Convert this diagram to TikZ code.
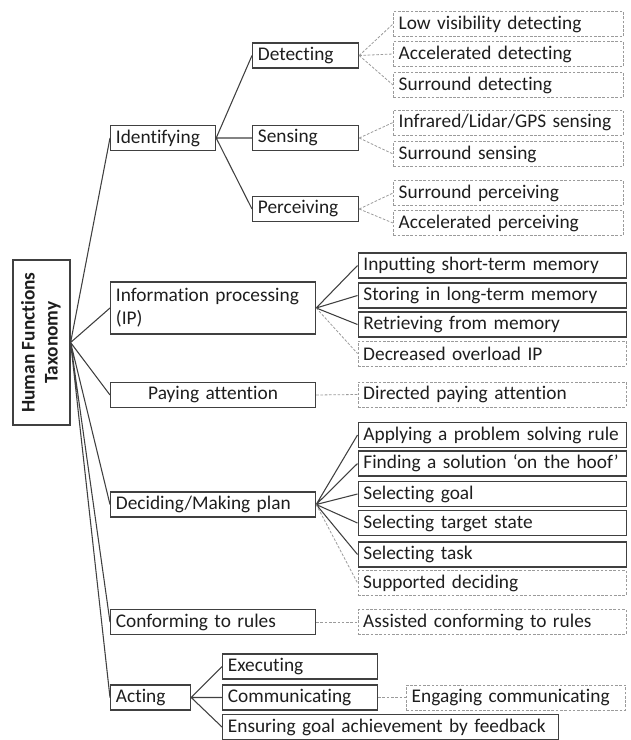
\documentclass[tikz,border=0pt]{standalone}
\usepackage{fontspec}
\setmainfont{Carlito}[Ligatures={TeX,NoCommon}]
\usepackage{tikz}
\usetikzlibrary{positioning}
\definecolor{boxgray}{RGB}{64,64,64}
\definecolor{dashgray}{RGB}{155,155,155}
\definecolor{inkdark}{RGB}{30,30,30}

\begin{document}
\begin{tikzpicture}[
    x=0.75pt, y=-0.75pt,
    font=\fontsize{14.5}{17.25}\selectfont,
    box/.style={draw=boxgray, line width=0.9pt, anchor=west, align=left, inner xsep=4pt, inner ysep=0pt, minimum height=18.75pt, text=inkdark},
    dbox/.style={box, draw=dashgray, line width=0.6pt, dash pattern=on 2pt off 1.2pt},
    link/.style={draw=boxgray, line width=0.8pt},
    dlink/.style={draw=dashgray, line width=0.6pt, dash pattern=on 2pt off 1.2pt}
  ]
    \useasboundingbox (0,0) rectangle (631,740);
    % root
    \node[draw=boxgray, line width=0.9pt, minimum width=42.75pt, minimum height=123.75pt, inner sep=0pt, text=inkdark] (taxonomy) at (41.5,342.5) {\rotatebox{90}{\bfseries\begin{tabular}{@{}c@{}}Human Functions\\Taxonomy\end{tabular}}};
    % functions
    \node[box, text width=70.75pt] (identifying) at (110,138) {Identifying};
    \node[box, text width=145.75pt, minimum height=39pt] (processing) at (110,308) {Information processing\\(IP)};
    \node[box, text width=145.75pt, align=center] (attention) at (110,395) {Paying attention};
    \node[box, text width=145.75pt] (deciding) at (110,504.5) {Deciding/Making plan};
    \node[box, text width=145.75pt] (conforming) at (110,622) {Conforming to rules};
    \node[box, text width=52pt] (acting) at (110,697.5) {Acting};
    % identifying
    \node[box, text width=71.5pt] (detecting) at (252,55.5) {Detecting};
    \node[box, text width=71.5pt] (sensing) at (252,138) {Sensing};
    \node[box, text width=71.5pt] (perceiving) at (252,209) {Perceiving};
    \node[dbox, text width=164.5pt] (lowvis) at (393,24) {Low visibility detecting};
    \node[dbox, text width=164.5pt] (accdetect) at (393,54) {Accelerated detecting};
    \node[dbox, text width=164.5pt] (surdetect) at (393,85) {Surround detecting};
    \node[dbox, text width=164.5pt] (infrared) at (393,122.5) {Infrared/Lidar/GPS sensing};
    \node[dbox, text width=164.5pt] (sursense) at (393,154) {Surround sensing};
    \node[dbox, text width=164.5pt] (surperceive) at (393,193) {Surround perceiving};
    \node[dbox, text width=164.5pt] (accperceive) at (393,223) {Accelerated perceiving};
    % information processing and attention
    \node[box, text width=193pt] (inputting) at (357.5,265.5) {Inputting short-term memory};
    \node[box, text width=193pt] (storing) at (357.5,295.5) {Storing in long-term memory};
    \node[box, text width=193pt] (retrieving) at (357.5,324.5) {Retrieving from memory};
    \node[dbox, text width=193pt] (overload) at (357.5,353.5) {Decreased overload IP};
    \node[dbox, text width=193pt] (directed) at (357.5,394.5) {Directed paying attention};
    % deciding and conforming
    \node[box, text width=193pt] (applying) at (357.5,435) {Applying a problem solving rule};
    \node[box, text width=193pt] (finding) at (357.5,463.5) {Finding a solution ‘on the hoof’};
    \node[box, text width=193pt] (selgoal) at (357.5,494) {Selecting goal};
    \node[box, text width=193pt] (seltarget) at (357.5,523) {Selecting target state};
    \node[box, text width=193pt] (seltask) at (357.5,554.5) {Selecting task};
    \node[dbox, text width=193pt] (supported) at (357.5,583) {Supported deciding};
    \node[dbox, text width=193pt] (assisted) at (357.5,622) {Assisted conforming to rules};
    % acting
    \node[box, text width=108.25pt] (executing) at (222,666.5) {Executing};
    \node[box, text width=108.25pt] (communicating) at (222,697.5) {Communicating};
    \node[box, text width=244pt] (ensuring) at (222,727) {Ensuring goal achievement by feedback};
    \node[dbox, text width=156.25pt] (engaging) at (406,697.5) {Engaging communicating};
    % links
    \draw[link] (taxonomy.east) -- (identifying.west) (taxonomy.east) -- (processing.west)
      (taxonomy.east) -- (attention.west) (taxonomy.east) -- (deciding.west)
      (taxonomy.east) -- (conforming.west) (taxonomy.east) -- (acting.west);
    \draw[link] (identifying.east) -- (detecting.west) (identifying.east) -- (sensing.west)
      (identifying.east) -- (perceiving.west);
    \draw[dlink] (detecting.east) -- (lowvis.west) (detecting.east) -- (accdetect.west)
      (detecting.east) -- (surdetect.west);
    \draw[dlink] (sensing.east) -- (infrared.west) (sensing.east) -- (sursense.west);
    \draw[dlink] (perceiving.east) -- (surperceive.west) (perceiving.east) -- (accperceive.west);
    \draw[link] (processing.east) -- (inputting.west) (processing.east) -- (storing.west)
      (processing.east) -- (retrieving.west);
    \draw[dlink] (processing.east) -- (overload.west);
    \draw[dlink] (attention.east) -- (directed.west);
    \draw[link] (deciding.east) -- (applying.west) (deciding.east) -- (finding.west)
      (deciding.east) -- (selgoal.west) (deciding.east) -- (seltarget.west)
      (deciding.east) -- (seltask.west);
    \draw[dlink] (deciding.east) -- (supported.west);
    \draw[dlink] (conforming.east) -- (assisted.west);
    \draw[link] (acting.east) -- (executing.west) (acting.east) -- (communicating.west)
      (acting.east) -- (ensuring.west);
    \draw[dlink] (communicating.east) -- (engaging.west);
  \end{tikzpicture}
\end{document}
